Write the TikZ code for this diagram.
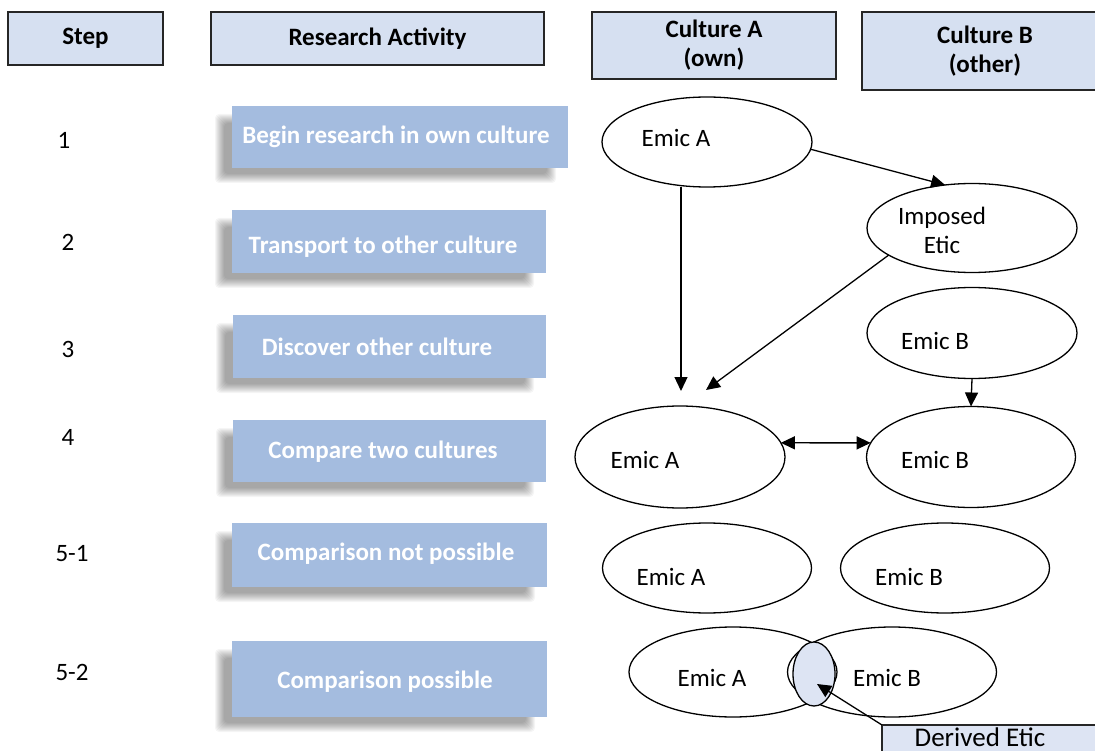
\documentclass[tikz,border=0pt]{standalone}
\usepackage{fontspec}
\setmainfont{Carlito}
\usetikzlibrary{shapes.geometric,arrows.meta,calc}
\definecolor{hdr}{RGB}{214,224,241}
\definecolor{act}{RGB}{164,188,223}
\definecolor{der}{RGB}{221,228,243}
\newcommand{\myfs}{\fontsize{25}{29}\selectfont}
\newcommand{\mkshadow}[1]{%
  \foreach \r in {-3,-2,...,6}{%
    \fill[black, opacity=0.04, rounded corners=4pt]
      ($(#1.north west)+(-11-\r,14-\r)$) rectangle ($(#1.south east)+(-18+\r,9+\r)$);
  }}
\begin{document}
\begin{tikzpicture}[x=1pt,y=-1pt,
  every node/.style={inner sep=0pt, outer sep=0pt},
  txt/.style={font=\myfs, align=center},
  hdrbox/.style={draw=black!85, line width=1.3pt, fill=hdr, font=\myfs\bfseries, align=center},
  acttxt/.style={text=white, font=\myfs\bfseries},
  ell/.style={draw, ellipse, line width=1.3pt},
  arr/.style={-{Triangle[length=14pt,width=13pt]}, line width=1.3pt},
  darr/.style={{Triangle[length=14pt,width=13pt]}-{Triangle[length=14pt,width=13pt]}, line width=1.3pt}
]
\clip (0,0) rectangle (1095,751);
\fill[white] (0,0) rectangle (1095,751);

% header boxes
\node[hdrbox, minimum width=155pt, minimum height=53pt] (hstep) at (85.5,38.5) {Step};
\node[hdrbox, minimum width=333pt, minimum height=53pt] (hact) at (377.5,38.5) {Research Activity};
\node[hdrbox, minimum width=244pt, minimum height=67pt] (hca) at (714,45.5) {Culture A\\(own)};
\node[hdrbox, minimum width=246pt, minimum height=78pt] (hcb) at (985,51) {Culture B\\(other)};

% step numbers
\node[txt] (s1) at (64,140) {1};
\node[txt] (s2) at (68,242) {2};
\node[txt] (s3) at (68,349) {3};
\node[txt] (s4) at (68,437) {4};
\node[txt] (s51) at (72,554) {5-1};
\node[txt] (s52) at (72,672) {5-2};

% activity boxes: place invisible nodes first for shadows
\path node[minimum width=336pt, minimum height=62pt] (a1) at (400,137) {}
      node[minimum width=314pt, minimum height=63pt] (a2) at (389,241.5) {}
      node[minimum width=313pt, minimum height=63pt] (a3) at (389.5,346.5) {}
      node[minimum width=313pt, minimum height=62pt] (a4) at (389.5,451) {}
      node[minimum width=315pt, minimum height=64pt] (a51) at (389.5,555) {}
      node[minimum width=315pt, minimum height=76pt] (a52) at (389.5,679) {};
\mkshadow{a1}\mkshadow{a2}\mkshadow{a3}\mkshadow{a4}\mkshadow{a51}\mkshadow{a52}
\foreach \b in {a1,a2,a3,a4,a51,a52}{\fill[act] (\b.north west) rectangle (\b.south east);}
\node[acttxt] (t1) at (396,137) {Begin research in own culture};
\node[acttxt] (t2) at (383,247) {Transport to other culture};
\node[acttxt] (t3) at (377,347) {Discover other culture};
\node[acttxt] (t4) at (383,452) {Compare two cultures};
\node[acttxt] (t51) at (386,554) {Comparison not possible};
\node[acttxt] (t52) at (385,682) {Comparison possible};

% ellipses
\node[ell, minimum width=210pt, minimum height=90pt] (E1A) at (707,142) {};
\node[txt] (E1At) at (676,138) {Emic A};
\node[ell, minimum width=210pt, minimum height=89pt] (IE) at (972,228) {};
\node[txt] (IEt) at (942,230) {Imposed\\Etic};
\node[ell, minimum width=210pt, minimum height=91pt] (E3B) at (972,333) {};
\node[txt] (E3Bt) at (935,341) {Emic B};
\node[ell, minimum width=210pt, minimum height=102pt] (E4A) at (680,457) {};
\node[txt] (E4At) at (645,460) {Emic A};
\node[ell, minimum width=209pt, minimum height=101pt] (E4B) at (971,457) {};
\node[txt] (E4Bt) at (935,460) {Emic B};
\node[ell, minimum width=209pt, minimum height=90pt] (E51A) at (707,568) {};
\node[txt] (E51At) at (671,577) {Emic A};
\node[ell, minimum width=209pt, minimum height=90pt] (E51B) at (945,568) {};
\node[txt] (E51Bt) at (909,577) {Emic B};
\node[ell, minimum width=208pt, minimum height=90pt] (E52A) at (733,672) {};
\node[ell, minimum width=209pt, minimum height=90pt] (E52B) at (892,672) {};
\node[txt] (E52At) at (712,678) {Emic A};
\node[txt] (E52Bt) at (887,678) {Emic B};
\node[ell, fill=der, minimum width=42pt, minimum height=64pt] (DEell) at (814,674) {};

% derived etic box
\node[draw=black!85, line width=1.3pt, fill=der, anchor=north west, minimum width=240pt, minimum height=40pt] (DE) at (882,725) {};
\node[font=\fontsize{27}{31}\selectfont, anchor=base] (DEt) at (980,746) {Derived Etic};

% connectors
\coordinate (tipA) at (681,391);
\coordinate (tipI) at (706,390);
\coordinate (tipD) at (817,684);
\draw[arr] (E1A.south -| tipA) -- (tipA);
\draw[arr] (E1A.-4) -- (IE.122);
\draw[arr] (IE.198) -- (tipI);
\draw[arr] (E3B.south) -- (E4B.north);
\draw[darr] (E4A.8) -- (E4B.172);
\draw[arr] (DE.north west) -- (tipD);
\end{tikzpicture}
\end{document}
